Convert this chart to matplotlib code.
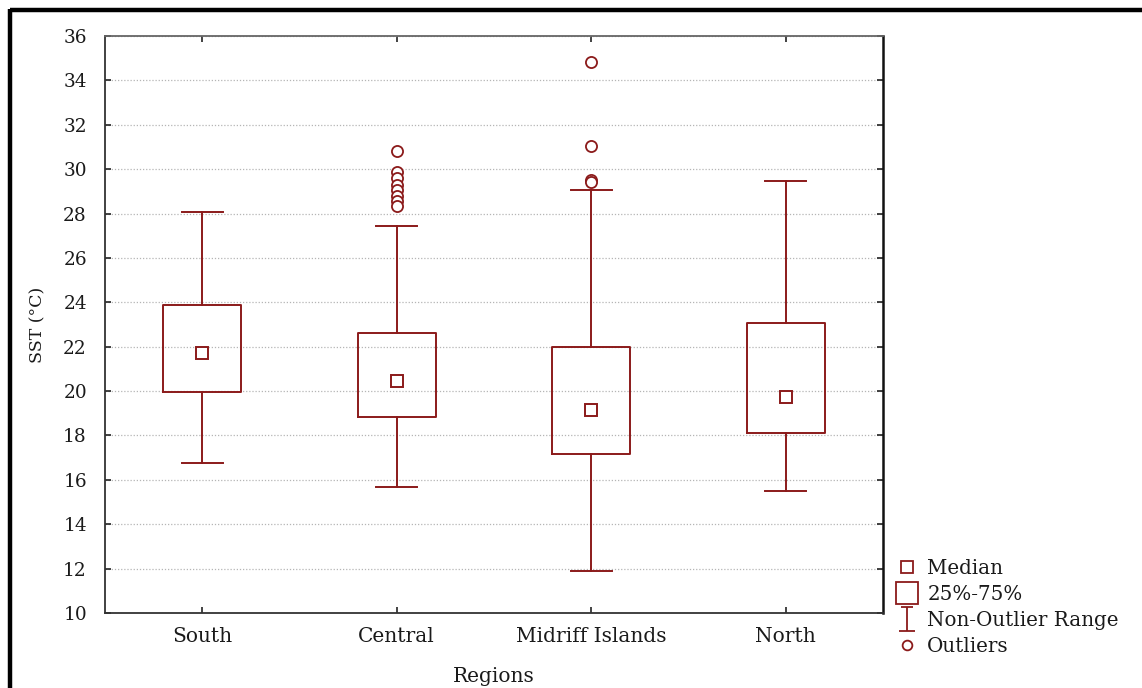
import matplotlib
matplotlib.use("Agg")
import matplotlib.pyplot as plt
from matplotlib.lines import Line2D
from matplotlib.path import Path

plt.rcParams['font.family'] = ['DejaVu Serif']

regions = ["South", "Central", "Midriff Islands", "North"]
medians = [21.7, 20.45, 19.15, 19.75]
q1 = [19.95, 18.85, 17.15, 18.1]
q3 = [23.9, 22.6, 22.0, 23.05]
whisker_low = [16.75, 15.7, 11.9, 15.5]
whisker_high = [28.05, 27.45, 29.05, 29.45]
outliers = [
    [],
    [30.8, 29.85, 29.6, 29.3, 29.05, 28.8, 28.55, 28.35],
    [34.85, 31.05, 29.5, 29.4],
    [],
]
y_ticks = list(range(10, 37, 2))

RED = "#8b1a1a"
TXT = "#1a1a1a"

fig = plt.figure(figsize=(11.42, 6.88), dpi=100)
ax = fig.add_axes([0.0919, 0.109, 0.6813, 0.8387])

stats = []
for i, name in enumerate(regions):
    stats.append(dict(label=name, med=medians[i], q1=q1[i], q3=q3[i],
                      whislo=whisker_low[i], whishi=whisker_high[i],
                      fliers=outliers[i]))

positions = [0.5, 1.5, 2.5, 3.5]
ax.bxp(stats, positions=positions, widths=0.4,
       boxprops=dict(color=RED, linewidth=1.4),
       whiskerprops=dict(color=RED, linewidth=1.4),
       capprops=dict(color=RED, linewidth=1.4),
       medianprops=dict(linestyle="none"),
       flierprops=dict(marker="o", markerfacecolor="white", markeredgecolor=RED,
                       markersize=8, markeredgewidth=1.3),
       capwidths=0.21, zorder=3)
ax.plot(positions, medians, linestyle="none", marker="s", markersize=9,
        markerfacecolor="white", markeredgecolor=RED, markeredgewidth=1.4, zorder=4)

ax.set_xlim(0, 4)
ax.set_ylim(10, 36)
ax.set_yticks(y_ticks)
ax.set_xticks(positions)
ax.set_xticklabels(regions)
ax.tick_params(axis="both", direction="in", length=4, width=1.2, colors="#222222",
               labelcolor=TXT, top=True, right=True)
ax.tick_params(axis="x", pad=10, labelsize=14.5)
ax.tick_params(axis="y", pad=13, labelsize=13.3)
ax.yaxis.grid(True, linestyle=(0, (1, 1.5)), color="#b5b5b5", linewidth=0.9)
ax.set_axisbelow(True)
for side in ["left", "bottom"]:
    ax.spines[side].set_color("#333333")
    ax.spines[side].set_linewidth(1.3)
ax.spines["top"].set_color("#666666")
ax.spines["top"].set_linewidth(1.3)
ax.spines["right"].set_color("#111111")
ax.spines["right"].set_linewidth(1.8)

ax.set_ylabel("SST (°C)", fontsize=12.5, color=TXT, labelpad=12)
ax.set_xlabel("Regions", fontsize=14.5, color=TXT, labelpad=15)

# legend with box-plot element glyphs
whisker_path = Path([(-0.5, 1), (0.5, 1), (0, 1), (0, -1), (-0.7, -1), (0.7, -1)],
                    [Path.MOVETO, Path.LINETO, Path.MOVETO, Path.LINETO,
                     Path.MOVETO, Path.LINETO])
handles = [
    Line2D([], [], linestyle="none", marker="s", markersize=8,
           markerfacecolor="white", markeredgecolor=RED, markeredgewidth=1.3),
    Line2D([], [], linestyle="none", marker="s", markersize=16,
           markerfacecolor="white", markeredgecolor=RED, markeredgewidth=1.3),
    Line2D([], [], linestyle="none", marker=whisker_path, markersize=17,
           markerfacecolor="none", markeredgecolor=RED, markeredgewidth=1.3),
    Line2D([], [], linestyle="none", marker="o", markersize=7,
           markerfacecolor="white", markeredgecolor=RED, markeredgewidth=1.3),
]
labels = ["Median", "25%-75%", "Non-Outlier Range", "Outliers"]
fig.legend(handles, labels, loc="upper left", bbox_to_anchor=(0.7755, 0.202),
           frameon=False, fontsize=14.3, handlelength=1.2, handletextpad=0.4,
           labelspacing=0.36, borderpad=0, labelcolor=TXT)

# frame lines along the top and left of the figure
fig.add_artist(Line2D([0.0085, 1.0], [0.985, 0.985], color="black", linewidth=3.2,
                      transform=fig.transFigure, solid_capstyle="butt"))
fig.add_artist(Line2D([0.0085, 0.0085], [0.0, 0.9875], color="black", linewidth=3.2,
                      transform=fig.transFigure, solid_capstyle="butt"))

fig.savefig("out.png", dpi=100, facecolor="white")
